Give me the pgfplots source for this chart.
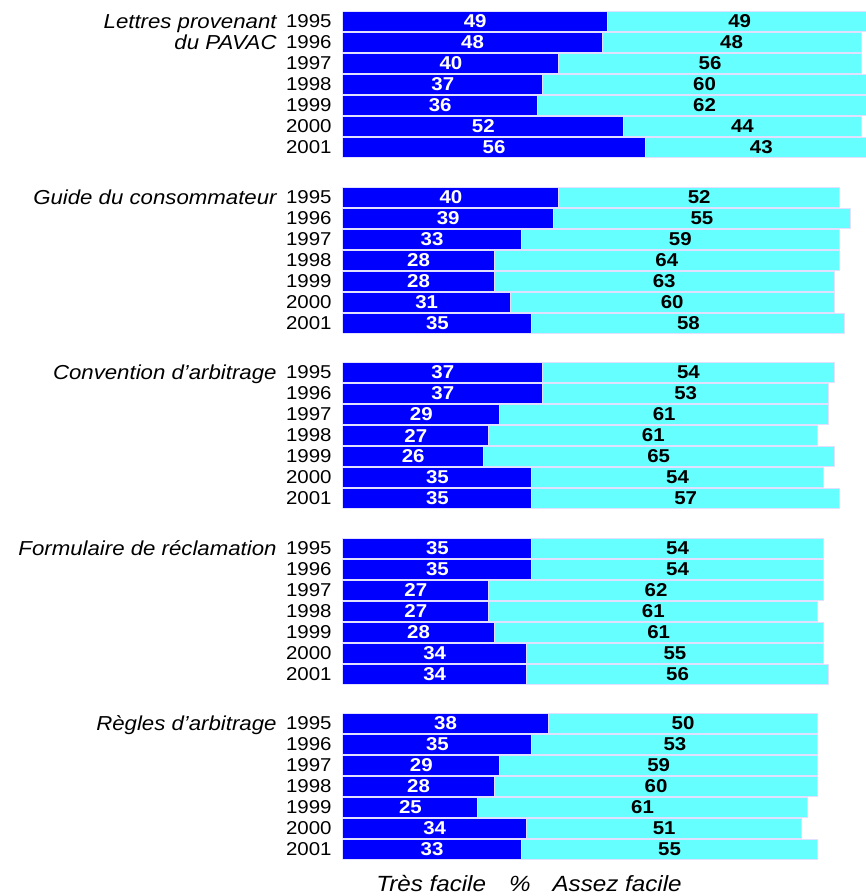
\documentclass[border=0pt]{standalone}
\usepackage{pgfplots}
\pgfplotsset{compat=1.18}
\usepackage{pgfplotstable}
\usepackage{fontspec}
\setmainfont{Liberation Sans}[FakeStretch=1.1]
\definecolor{tresf}{RGB}{0,0,255}
\definecolor{assezf}{RGB}{102,255,255}
\definecolor{edgec}{RGB}{225,225,255}

% y = vertical position of the row (picture units), d = Tres facile, c = Assez facile
\pgfplotstableread{
y     year d  c
21.5  1995 49 49
42.5  1996 48 48
63.5  1997 40 56
84.5  1998 37 60
105.5 1999 36 62
126.5 2000 52 44
147.5 2001 56 43
197   1995 40 52
218   1996 39 55
239   1997 33 59
260   1998 28 64
281   1999 28 63
302   2000 31 60
323   2001 35 58
372.5 1995 37 54
393.5 1996 37 53
414.5 1997 29 61
435.5 1998 27 61
456.5 1999 26 65
477.5 2000 35 54
498.5 2001 35 57
548   1995 35 54
569   1996 35 54
590   1997 27 62
611   1998 27 61
632   1999 28 61
653   2000 34 55
674   2001 34 56
723.5 1995 38 50
744.5 1996 35 53
765.5 1997 29 59
786.5 1998 28 60
807.5 1999 25 61
828.5 2000 34 51
849.5 2001 33 55
}\data

\pgfplotsset{geom/.style={
  scale only axis,
  width=261.5pt, height=425pt,
  xmin=0, xmax=96.9,
  ymin=10, ymax=860, y dir=reverse,
  enlargelimits=false,
  at={(0,0)}, anchor=south west,
}}
\tikzset{glabel/.style={anchor=base east, inner sep=0pt, xshift=-33pt, yshift=-3.7pt,
     font=\fontsize{10.1}{12}\selectfont\itshape}}

\begin{document}
\begin{tikzpicture}
\begin{axis}[
  geom,
  name=ax,
  xbar stacked,
  bar width=20,
  axis line style={draw=none},
  tick style={draw=none},
  major tick length=0pt,
  xtick=\empty,
  ytick={21.5,42.5,63.5,84.5,105.5,126.5,147.5,
         197,218,239,260,281,302,323,
         372.5,393.5,414.5,435.5,456.5,477.5,498.5,
         548,569,590,611,632,653,674,
         723.5,744.5,765.5,786.5,807.5,828.5,849.5},
  yticklabels={1995,1996,1997,1998,1999,2000,2001,
               1995,1996,1997,1998,1999,2000,2001,
               1995,1996,1997,1998,1999,2000,2001,
               1995,1996,1997,1998,1999,2000,2001,
               1995,1996,1997,1998,1999,2000,2001},
  yticklabel style={font=\fontsize{9.3}{10}\selectfont, inner xsep=0pt, xshift=-5.5pt},
]
\addplot[fill=tresf, draw=edgec, line width=0.5pt] table[x=d, y=y] {\data};
\addplot[fill=assezf, draw=edgec, line width=0.5pt] table[x=c, y=y] {\data};
\end{axis}

% value labels, centred in each segment, and group names
\begin{axis}[
  geom,
  hide axis,
  clip=false,
  point meta=explicit,
  /pgf/number format/assume math mode=true,
  nodes near coords,
  every node near coord/.append style={anchor=center, inner sep=0pt,
     font=\fontsize{9.3}{10}\selectfont\bfseries},
]
\addplot[only marks, mark=none, every node near coord/.append style={text=white}]
  table[x expr=\thisrow{d}/2, y=y, meta=d] {\data};
\addplot[only marks, mark=none, every node near coord/.append style={text=black}]
  table[x expr=\thisrow{d}+\thisrow{c}/2, y=y, meta=c] {\data};

\node[glabel] at (axis cs:0,21.5) {Lettres provenant};
\node[glabel] at (axis cs:0,42.5) {du PAVAC};
\node[glabel] at (axis cs:0,197) {Guide du consommateur};
\node[glabel] at (axis cs:0,372.5) {Convention d'arbitrage};
\node[glabel] at (axis cs:0,548) {Formulaire de réclamation};
\node[glabel] at (axis cs:0,723.5) {Règles d'arbitrage};
\end{axis}

\node[font=\fontsize{11}{13}\selectfont\itshape, anchor=center, inner sep=0pt]
  at ([xshift=93pt, yshift=-12pt]ax.south west)
  {Très facile\hspace*{11.5pt}\%\hspace*{11pt}Assez facile};
\path ([xshift=-171.5pt, yshift=5pt]ax.north west) rectangle ([yshift=-18pt]ax.south east);
\end{tikzpicture}
\end{document}
